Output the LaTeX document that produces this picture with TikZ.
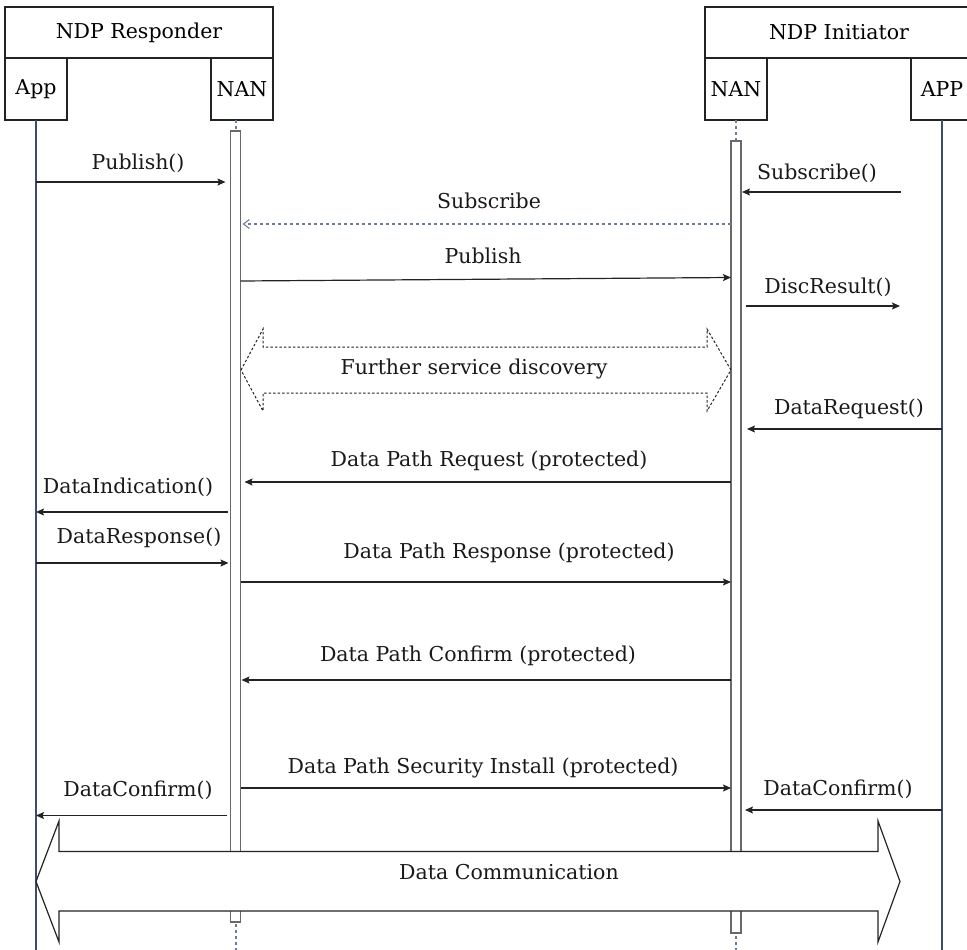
\documentclass[tikz,border=0pt]{standalone}
\usepackage{fontspec}
\setmainfont{DejaVu Serif}
\usetikzlibrary{arrows.meta}

\definecolor{lifeblue}{RGB}{60,78,105}
\definecolor{dashblue}{RGB}{105,125,150}
\definecolor{linegray}{RGB}{35,35,35}
\definecolor{bargray}{RGB}{105,105,105}

\begin{document}
\begin{tikzpicture}[x=1pt,y=-1pt,
  font=\fontsize{20.5}{24}\selectfont,
  box/.style={draw=linegray, line width=1.1pt, fill=white, inner sep=0pt, outer sep=0pt},
  bar/.style={draw=bargray, line width=1.2pt, fill=white, minimum width=10pt, inner sep=0pt, outer sep=0pt},
  solidlife/.style={draw=lifeblue, line width=1.1pt},
  dashlife/.style={draw=dashblue, line width=1.1pt, dash pattern=on 3pt off 3pt},
  msg/.style={draw=linegray, line width=1.2pt, -{Stealth[length=8pt,width=7pt,inset=1.5pt]}},
  reply/.style={draw=dashblue, line width=1.1pt, dash pattern=on 3pt off 3pt, -{Straight Barb[length=6pt,width=9pt]}},
  lbl/.style={inner sep=0pt, text=black!90},
  band/.style={draw=linegray, line width=1.2pt, fill=white, line join=miter},
]
\useasboundingbox (0,0) rectangle (967,950);
\clip (0,0) rectangle (967,950);

% --- headers -------------------------------------------------------------
\node[box, minimum width=268pt, minimum height=51pt] (respT) at (139,32.5) {NDP Responder};
\node[box, minimum width=62pt, minimum height=62pt] (respApp) at (36,89) {App};
\node[box, minimum width=62pt, minimum height=62pt] (respNan) at (242,89) {NAN};
\node[box, minimum width=268pt, minimum height=51pt] (initT) at (839,32.5) {NDP Initiator};
\node[box, minimum width=62pt, minimum height=62pt] (initNan) at (736,89) {NAN};
\node[box, minimum width=62pt, minimum height=62pt] (initApp) at (942,89) {APP};

% --- lifelines -----------------------------------------------------------
\coordinate (appL) at (36,950);
\coordinate (nanL) at (236,950);
\coordinate (nanR) at (736,950);
\coordinate (appR) at (942,950);
\draw[solidlife] (respApp.south) -- (appL);
\draw[dashlife] (respNan.south -| nanL) -- (nanL);
\draw[dashlife] (initNan.south) -- (nanR);
\draw[solidlife] (initApp.south) -- (appR);

% activation bars
\node[bar, minimum height=791pt] (barL) at (235.5,526.5) {};
\node[bar, minimum height=792pt] (barR) at (736,537) {};

% --- message rows --------------------------------------------------------
\coordinate (r1) at (0,182);
\coordinate (r2) at (0,192);
\coordinate (r3) at (0,224);
\coordinate (r4a) at (0,281);
\coordinate (r4b) at (0,277.5);
\coordinate (r5) at (0,306);
\coordinate (r7) at (0,429);
\coordinate (r8) at (0,482);
\coordinate (r9) at (0,512);
\coordinate (r10) at (0,563);
\coordinate (r11) at (0,582);
\coordinate (r12) at (0,680);
\coordinate (r13) at (0,788);
\coordinate (r14) at (0,815.5);
\coordinate (r15) at (0,810);

% free ends near the initiator APP lifeline
\coordinate (subSrc) at (901,192);
\coordinate (discEnd) at (900,306);

\draw[msg] (appL |- r1) -- ([xshift=-5pt]barL.west |- r1);
\node[lbl] (tPub) at (138,163) {Publish()};

\draw[msg] (subSrc) -- ([xshift=1pt]barR.east |- r2);
\node[lbl] (tSub) at (817,173) {Subscribe()};

\draw[reply] (barR.west |- r3) -- ([xshift=2pt]barL.east |- r3);
\node[lbl] (tSubscribe) at (489,201) {Subscribe};

\draw[msg] (barL.east |- r4a) -- (barR.west |- r4b);
\node[lbl] (tPublish) at (483,256) {Publish};

\draw[msg] ([xshift=5pt]barR.east |- r5) -- (discEnd);
\node[lbl] (tDisc) at (828,287) {DiscResult()};

% further service discovery (dashed double arrow)
\draw[draw=linegray, line width=1pt, dash pattern=on 2.5pt off 2pt, line join=miter]
  (241,370) -- (263,329) -- (263,347) -- (707,347) -- (707,329) -- (731,370)
  -- (707,411) -- (707,393) -- (263,393) -- (263,411) -- cycle;
\node[lbl] (tFurther) at (474,369) {Further service discovery};

\draw[msg] (appR |- r7) -- ([xshift=6pt]barR.east |- r7);
\node[lbl] (tDReq) at (849,409) {DataRequest()};

\draw[msg] (barR.west |- r8) -- ([xshift=4pt]barL.east |- r8);
\node[lbl] (tDPReq) at (489,461) {Data Path Request (protected)};

\draw[msg] ([xshift=-2.5pt]barL.west |- r9) -- (appL |- r9);
\node[lbl] (tDInd) at (128,487) {DataIndication()};

\draw[msg] (appL |- r10) -- ([xshift=-2pt]barL.west |- r10);
\node[lbl] (tDResp) at (139,538) {DataResponse()};

\draw[msg] (barL.east |- r11) -- (barR.west |- r11);
\node[lbl] (tDPResp) at (509,553) {Data Path Response (protected)};

\draw[msg] (barR.west |- r12) -- ([xshift=1pt]barL.east |- r12);
\node[lbl] (tDPConf) at (478,656) {Data Path Confirm (protected)};

\draw[msg] (barL.east |- r13) -- (barR.west |- r13);
\node[lbl] (tDPSec) at (483,768) {Data Path Security Install (protected)};

\draw[msg] ([xshift=-3.5pt]barL.west |- r14) -- (appL |- r14);
\node[lbl] (tDConfL) at (138,790) {DataConfirm()};

\draw[msg] (appR |- r15) -- ([xshift=4pt]barR.east |- r15);
\node[lbl] (tDConfR) at (838,789) {DataConfirm()};

% data communication band
\draw[band]
  (36,881.5) -- (59,821) -- (59,851.5) -- (878,851.5) -- (878,821) -- (900,881.5)
  -- (878,942) -- (878,911) -- (59,911) -- (59,942) -- cycle;
\node[lbl] (tComm) at (509,872) {Data Communication};
\end{tikzpicture}
\end{document}
